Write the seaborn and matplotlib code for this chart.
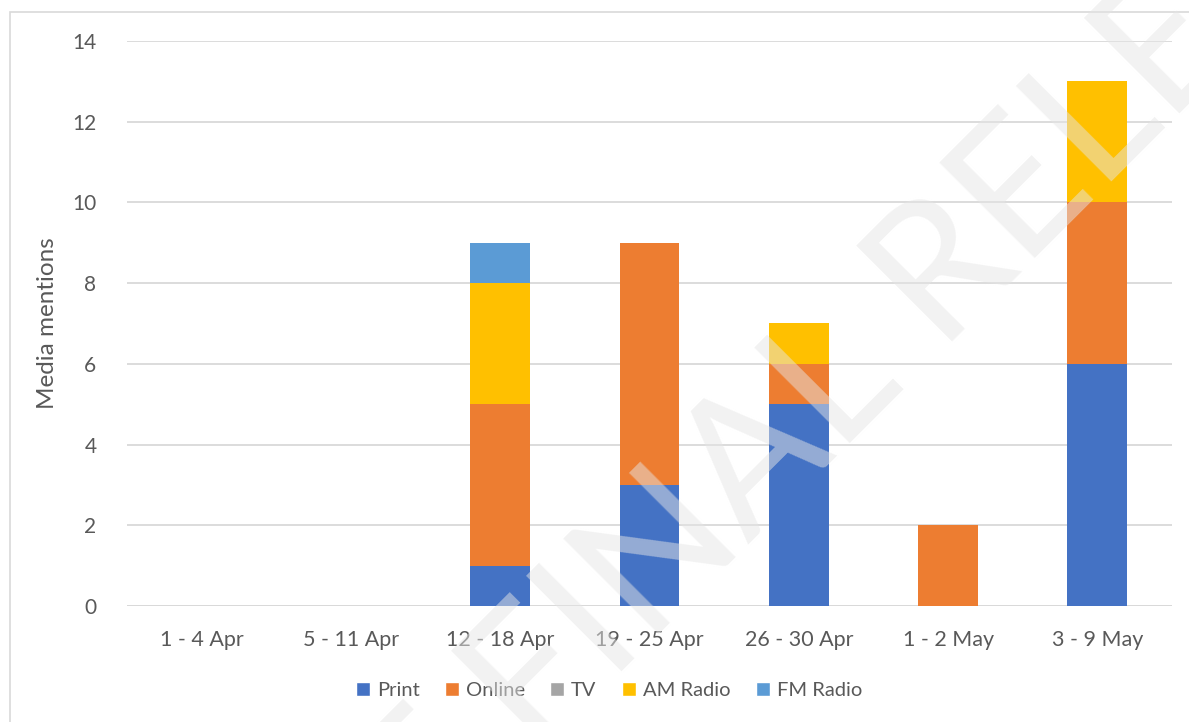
import numpy as np
import pandas as pd
import seaborn as sns
import matplotlib.pyplot as plt
from matplotlib.patches import Patch, Rectangle

# data
weeks = ['1 - 4 Apr', '5 - 11 Apr', '12 - 18 Apr', '19 - 25 Apr',
         '26 - 30 Apr', '1 - 2 May', '3 - 9 May']
print_vals = [0, 0, 1, 3, 5, 0, 6]
online_vals = [0, 0, 4, 6, 1, 2, 4]
tv_vals = [0, 0, 0, 0, 0, 0, 0]
am_vals = [0, 0, 3, 0, 1, 0, 3]
fm_vals = [0, 0, 1, 0, 0, 0, 0]

series = ['Print', 'Online', 'TV', 'AM Radio', 'FM Radio']
colors = ['#4472C4', '#ED7D31', '#A5A5A5', '#FFC000', '#5B9BD5']

df = pd.DataFrame({'week': weeks, 'Print': print_vals, 'Online': online_vals,
                   'TV': tv_vals, 'AM Radio': am_vals, 'FM Radio': fm_vals})

sns.set_style('white')
plt.rcParams['font.family'] = ['Lato', 'DejaVu Sans']

fig = plt.figure(figsize=(11.89, 7.22), dpi=100)
ax = fig.add_axes([0.1068, 0.1607, 0.8789, 0.7825])

bottom = np.zeros(len(weeks))
for name, col in zip(series, colors):
    sns.barplot(data=df, x='week', y=name, color=col, width=0.4,
                bottom=bottom, ax=ax, linewidth=0, saturation=1)
    bottom = bottom + df[name].values

ax.set_ylim(0, 14)
ax.set_xlim(-0.5, 6.5)
ax.set_yticks(range(0, 15, 2))
ax.yaxis.grid(True, color='#D9D9D9', linewidth=1.3)
ax.set_axisbelow(True)
for s in ax.spines.values():
    s.set_visible(False)
ax.axhline(0, color='#D9D9D9', linewidth=1.3, zorder=0)
ax.tick_params(axis='both', length=0, labelcolor='#595959')
ax.tick_params(axis='x', pad=17, labelsize=15.5)
ax.tick_params(axis='y', pad=22, labelsize=15)
ax.set_xlabel('')
ax.set_ylabel('Media mentions', fontsize=17.5, color='#595959', labelpad=10)

handles = [Patch(facecolor=c, label=n) for n, c in zip(series, colors)]
fig.legend(handles=handles, loc='center', bbox_to_anchor=(0.512, 0.044),
           ncol=5, frameon=False, fontsize=14.5, handlelength=0.7,
           handleheight=0.7, handletextpad=0.35, columnspacing=1.25,
           labelcolor='#595959')

# chart frame
fig.patches.append(Rectangle((10 / 1189, -0.1), 1.2, 1 - 12 / 722 + 0.1,
                             transform=fig.transFigure, fill=False,
                             edgecolor='#D9D9D9', linewidth=1.2))

# watermark
fig.text(0.682, 0.437, 'NOT FINAL RELEASE', fontsize=135, rotation=45,
         rotation_mode='anchor', ha='center', va='center',
         color='#E5E5E5', alpha=0.5, zorder=10)

plt.savefig('out.png', dpi=100)
